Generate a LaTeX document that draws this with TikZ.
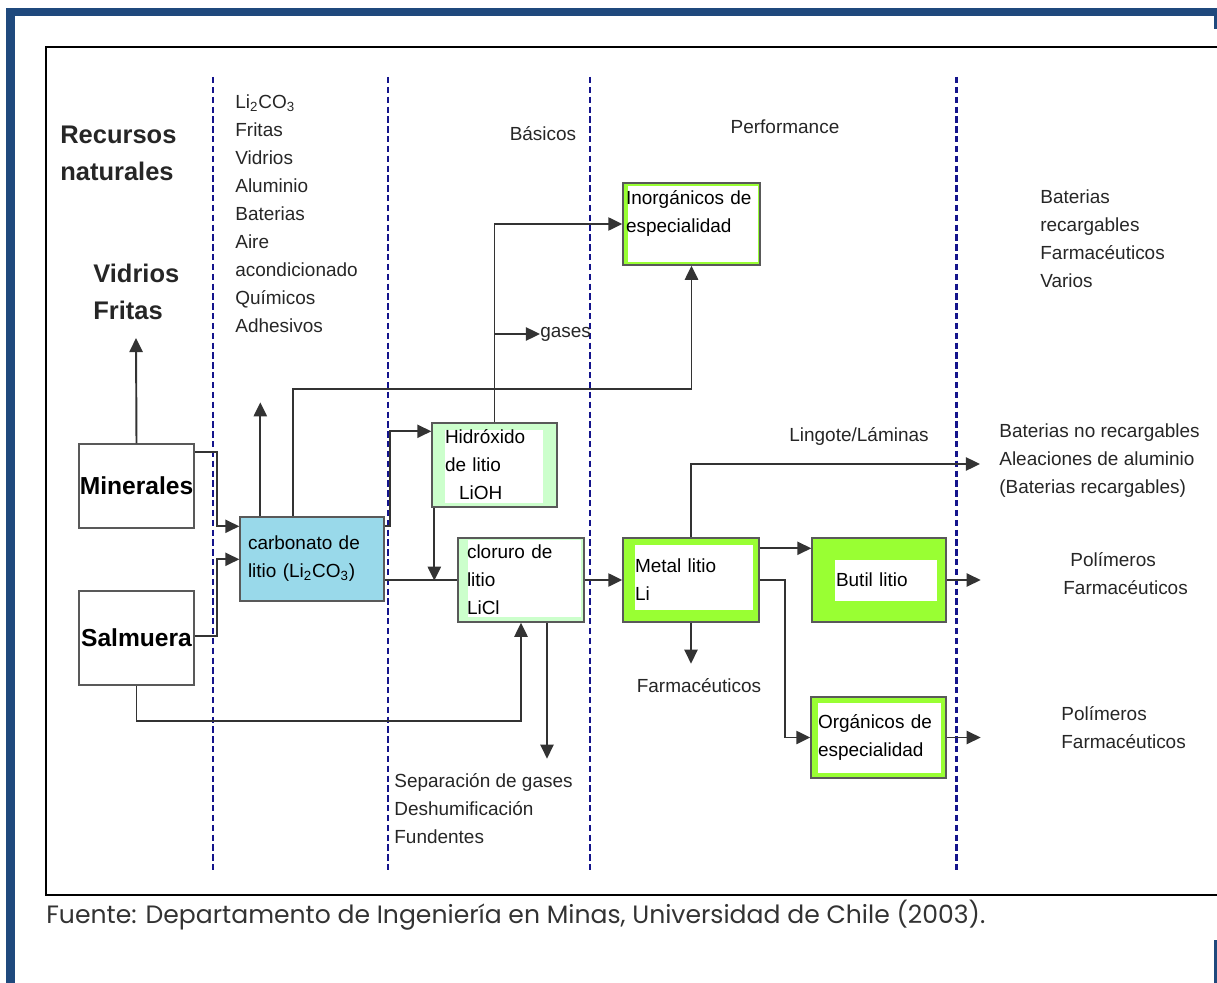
\documentclass[tikz,border=0pt]{standalone}
\usepackage{fontspec}
\usepackage{graphicx}
\setmainfont{Liberation Sans}
\newfontfamily\fuentefont{Poppins}
\usetikzlibrary{arrows.meta, positioning}

\definecolor{frameblue}{RGB}{31,73,125}
\definecolor{dashblue}{RGB}{20,20,140}
\definecolor{carbblue}{RGB}{153,217,234}
\definecolor{palegreen}{RGB}{204,255,204}
\definecolor{limegreen}{RGB}{153,255,51}

\begin{document}
\begin{tikzpicture}[
    x=0.02cm, y=-0.02cm,
    font=\fontsize{10.8}{15.9}\selectfont,
    box/.style={draw=black!65, line width=0.8pt, fill=white, rectangle, inner ysep=0pt, minimum height=1.68cm},
    inset/.style n args={4}{path picture={\fill[white] ([shift={(#1,#2)}]path picture bounding box.north west) rectangle ([shift={(-#3,-#4)}]path picture bounding box.south east);}},
    txt/.style={anchor=west, inner sep=0pt, align=left, text=black!85},
    bigtxt/.style={txt, font=\fontsize{14.5}{21}\selectfont\bfseries},
    arrow/.style={-{Triangle[length=8pt,width=7.5pt]}, line width=1.1pt, black!80},
    link/.style={line width=1.1pt, black!80},
    divider/.style={dashblue, line width=1.1pt, dash pattern=on 3.6pt off 2pt}
]
\useasboundingbox (0,0) rectangle (1217,983);

% marco
\fill[frameblue] (6,8) rectangle (15,983);
\fill[frameblue] (6,8) rectangle (1217,16);
\fill[frameblue] (1214,8) rectangle (1217,29);
\fill[frameblue] (1214,940) rectangle (1217,983);
\draw[line width=1.2pt] (1217,47) -| (46,895) -- (1217,895);

% columnas
\foreach \x in {213,388,590}
    \draw[divider] (\x,77) -- (\x,873);
\draw[divider, line width=1.7pt] (956,77) -- (956,873);

% cajas
\node[box, minimum width=2.3cm, inner xsep=0pt, font=\fontsize{14}{21}\selectfont\bfseries] (minerales) at (136.5,486) {Minerales};
\node[box, minimum width=2.3cm, minimum height=1.88cm, inner xsep=0pt, font=\fontsize{14}{21}\selectfont\bfseries] (salmuera) at (136.5,638) {Salmuera};
\node[box, fill=carbblue, minimum width=2.88cm, inner xsep=0.16cm, text width=2.56cm, align=left] (carbonato) at (312,559) {carbonato de\\litio (Li\textsubscript{2}CO\textsubscript{3})};
\node[box, fill=palegreen, inset={13}{7}{14}{4}, minimum width=2.5cm, inner xsep=0.26cm, text width=1.98cm, align=left] (hidroxido) at (494.5,465) {Hidróxido\\de litio\\\hspace*{8pt}LiOH};
\node[box, fill=palegreen, inset={10}{2}{3}{5}, minimum width=2.52cm, inner xsep=0.18cm, text width=2.16cm, align=left] (cloruro) at (521,580) {cloruro de\\litio\\LiCl};
\node[box, fill=limegreen, inset={12}{7}{6}{12}, minimum width=2.72cm, inner xsep=0.24cm, text width=2.24cm, align=left] (metal) at (691,580) {Metal litio\\Li};
\node[box, fill=limegreen, inset={23}{22}{9}{21}, minimum width=2.68cm, inner xsep=0.48cm, text width=1.72cm, align=left] (butil) at (879,580) {Butil litio};
\node[box, fill=limegreen, inset={7}{6}{5}{5}, minimum width=2.7cm, minimum height=1.62cm, inner xsep=0.14cm, text width=2.42cm, align=left] (organicos) at (878.5,737.5) {Orgánicos de\\especialidad};
\node[box, fill=limegreen, inset={5}{3}{2}{3}, minimum width=2.74cm, minimum height=1.64cm, inner xsep=0.06cm, text width=2.62cm, align=left] (inorganicos) at (691.5,224) {Inorgánicos de\\especialidad\\[-2pt]\mbox{}};

% textos
\node[bigtxt] (recursos) at (60,153.5) {Recursos\\naturales};
\node[bigtxt] (vidrios) at (93,291.5) {Vidrios\\Fritas};
\node[txt] (usoscarb) at (235,213.5) {Li\textsubscript{2}CO\textsubscript{3}\\Fritas\\Vidrios\\Aluminio\\Baterias\\Aire\\acondicionado\\Químicos\\Adhesivos};
\node[txt, anchor=center] (basicos) at (543,134) {Básicos};
\node[txt, anchor=center] (performance) at (785,127) {Performance};
\node[txt] (usosperf) at (1040,239) {Baterias\\recargables\\Farmacéuticos\\Varios};
\node[txt] (gases) at (540,334) {gases};
\node[txt, anchor=center] (lingote) at (859,436) {Lingote/Láminas};
\node[txt] (usoslingote) at (999,461) {Baterias no recargables\\Aleaciones de aluminio\\(Baterias recargables)};
\node[txt] (usosbutil) at (1063,573.5) {\hspace*{4pt}Polímeros\\Farmacéuticos};
\node[txt] (usosorg) at (1061,727.5) {Polímeros\\Farmacéuticos};
\node[txt, anchor=north, below=1.1cm of metal, xshift=0.16cm] (farma) {Farmacéuticos};
\node[txt] (separacion) at (394,809) {Separación de gases\\Deshumificación\\Fundentes};
\node[anchor=west, inner sep=0pt, text=black!80] (fuente) at (46,915) {\resizebox{18.78cm}{!}{\fuentefont Fuente: Departamento de Ingeniería en Minas, Universidad de Chile (2003).}};

% flechas
\coordinate (vftip) at (136,338);
\coordinate (lingtip) at (980,464);
\draw[arrow] (minerales.north) -- (vftip);
\draw[arrow] ([shift={(0,9)}]minerales.north east) -- ++(22,0) |- ([shift={(0,10)}]carbonato.north west);
\draw[arrow] ([shift={(0,46)}]salmuera.north east) -- ++(22,0) |- ([shift={(0,43)}]carbonato.north west);
\draw[arrow] ([shift={(21,0)}]carbonato.north west) -- ++(0,-114);
\draw[arrow] ([shift={(54,0)}]carbonato.north west) -- ++(0,-127) -| (inorganicos.south);
\draw[arrow] ([shift={(0,10)}]carbonato.north east) -- ++(5,0) |- ([shift={(0,9)}]hidroxido.north west);
\draw[link] (carbonato.east |- cloruro.west) -- (cloruro.west);
\draw[arrow] ([shift={(3,0)}]hidroxido.south west) -- ++(0,73);
\draw[arrow] (hidroxido.north) |- (inorganicos.west);
\draw[arrow] (hidroxido.north |- gases.west) -- (gases.west);
\draw[arrow] (salmuera.south) -- ++(0,35) -| (cloruro.south);
\draw[arrow] ([shift={(26,0)}]cloruro.south) -- ++(0,136);
\draw[arrow] (cloruro.east) -- (metal.west);
\draw[arrow] (metal.north) |- (lingtip);
\draw[arrow] ([shift={(0,11)}]metal.north east) -- ([shift={(0,11)}]butil.north west);
\draw[arrow] (metal.east) -- ++(25,0) |- (organicos.west);
\draw[arrow] (metal.south) -- ++(0,41);
\draw[arrow] (butil.east) -- ++(34,0);
\draw[arrow] (organicos.east) -- ++(34,0);
\end{tikzpicture}
\end{document}
